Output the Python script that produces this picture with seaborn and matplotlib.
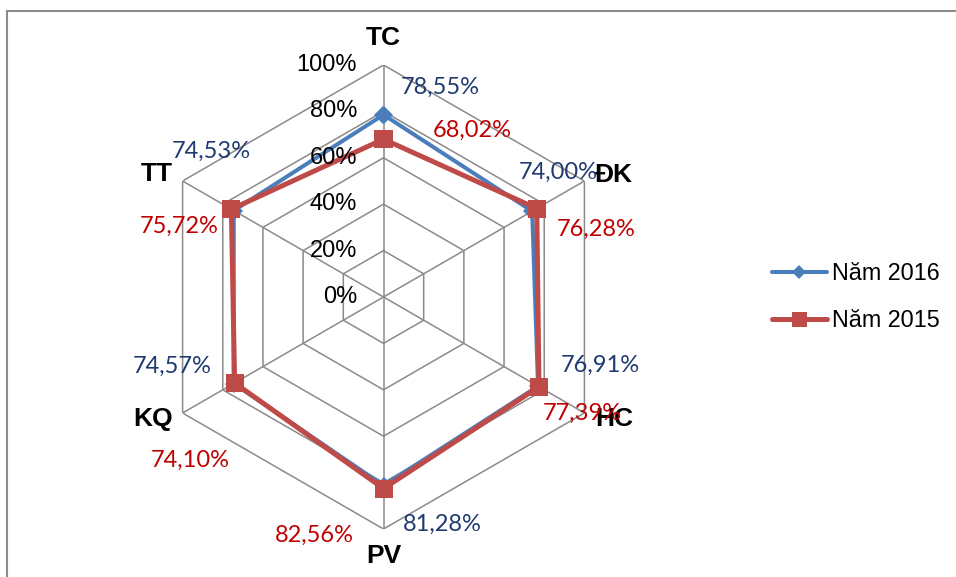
import numpy as np
import pandas as pd
import matplotlib
matplotlib.use("Agg")
import matplotlib.pyplot as plt
from matplotlib.patches import Rectangle
import seaborn as sns

# Criteria (clockwise from the top) and scores in percent
categories = ["TC", "ĐK", "HC", "PV", "KQ", "TT"]
values_2016 = [78.55, 74.00, 76.91, 81.28, 74.57, 74.53]
values_2015 = [68.02, 76.28, 77.39, 82.56, 74.10, 75.72]
series_names = ["Năm 2016", "Năm 2015"]
ring_levels = [0, 20, 40, 60, 80, 100]
ring_labels = ["0%", "20%", "40%", "60%", "80%", "100%"]

sns.set_style("white")
plt.rcParams["font.family"] = ["Liberation Sans", "DejaVu Sans"]
plt.rcParams["text.color"] = "black"

fig = plt.figure(figsize=(9.56, 5.77), dpi=100)
W, H = 956, 577
cx, cy, R = 383.5, 297, 232
ax = fig.add_axes([(cx - R) / W, (H - cy - R) / H, 2 * R / W, 2 * R / H],
                  projection="polar")
ax.set_theta_zero_location("N")
ax.set_theta_direction(-1)
ax.set_ylim(0, 100)
ax.grid(False)
ax.spines["polar"].set_visible(False)
ax.set_xticks([])
ax.set_yticks([])
ax.patch.set_alpha(0)

n = len(categories)
theta = np.arange(n) * 2 * np.pi / n
theta_closed = np.append(theta, 2 * np.pi)

# Hexagonal grid: rings and spokes
grid_col = "#8a8a8a"
for lvl in ring_levels[1:]:
    ax.plot(theta_closed, [lvl] * (n + 1), color=grid_col, lw=1.1, zorder=1)
for t in theta:
    ax.plot([t, t], [0, 100], color=grid_col, lw=1.1, zorder=1)

# Data series
colors = ["#4A7EBB", "#BE4B48"]
markers = ["D", "s"]
msizes = [8.7, 13.5]
lws = [2.9, 3.6]
for name, vals, col, mk, ms, lw in zip(series_names, [values_2016, values_2015],
                                       colors, markers, msizes, lws):
    df = pd.DataFrame({"theta": theta_closed, "value": vals + vals[:1]})
    sns.lineplot(data=df, x="theta", y="value", sort=False, ax=ax, color=col,
                 lw=lw, marker=mk, markersize=ms, markeredgecolor=col,
                 markeredgewidth=0, label=name, zorder=3, legend=False)
ax.set_xlabel("")
ax.set_ylabel("")

# Value labels (offsets in points from each marker)
label_font = ["Lato", "DejaVu Sans"]
off_2016 = [(41, 20), (18.7, 28), (44.6, 15.1), (42, -28), (-44, 12), (-16.4, 42.8)]
off_2015 = [(63.7, 6.5), (42.6, -14.8), (31, -19), (-50, -33.5), (-32, -55.4), (-37.7, -12.3)]
for vals, offs, col in [(values_2016, off_2016, "#1F3A70"),
                        (values_2015, off_2015, "#C00000")]:
    for t, v, off in zip(theta, vals, offs):
        txt = f"{v:.2f}%".replace(".", ",")
        ax.annotate(txt, (t, v), xytext=off, textcoords="offset points",
                    ha="center", va="center", fontsize=17, color=col,
                    family=label_font, annotation_clip=False, zorder=4)

# Category labels around the outer ring
cat_offs = [(0, 19.5), (21.5, 4.3), (21.5, -4.3), (0, -19.5), (-21.5, -4.3), (-18.4, 5)]
for t, c, off in zip(theta, categories, cat_offs):
    ax.annotate(c, (t, 100), xytext=off, textcoords="offset points",
                ha="center", va="center", fontsize=19, fontweight="bold",
                color="black", annotation_clip=False)

# Radial axis labels along the top spoke
for lvl, lab in zip(ring_levels, ring_labels):
    ax.annotate(lab, (0, lvl), xytext=(-19, 0), textcoords="offset points",
                ha="right", va="center", fontsize=17, color="black",
                annotation_clip=False)

handles, labels = ax.get_legend_handles_labels()
leg = fig.legend(handles, labels, loc="center left",
                 bbox_to_anchor=(772 / W, 1 - 297 / H),
                 frameon=False, fontsize=16.8, handlelength=2.35,
                 handletextpad=0.22, labelspacing=1.05, borderpad=0,
                 borderaxespad=0, markerscale=0.8)
for txt in leg.get_texts():
    txt.set_color("black")

# Chart border
fig.add_artist(Rectangle((7 / W, -0.05), 1.2, (H - 10.5) / H + 0.05,
                         transform=fig.transFigure, fill=False,
                         edgecolor="#8c8c8c", lw=1.5))

fig.savefig("out.png", dpi=100)
